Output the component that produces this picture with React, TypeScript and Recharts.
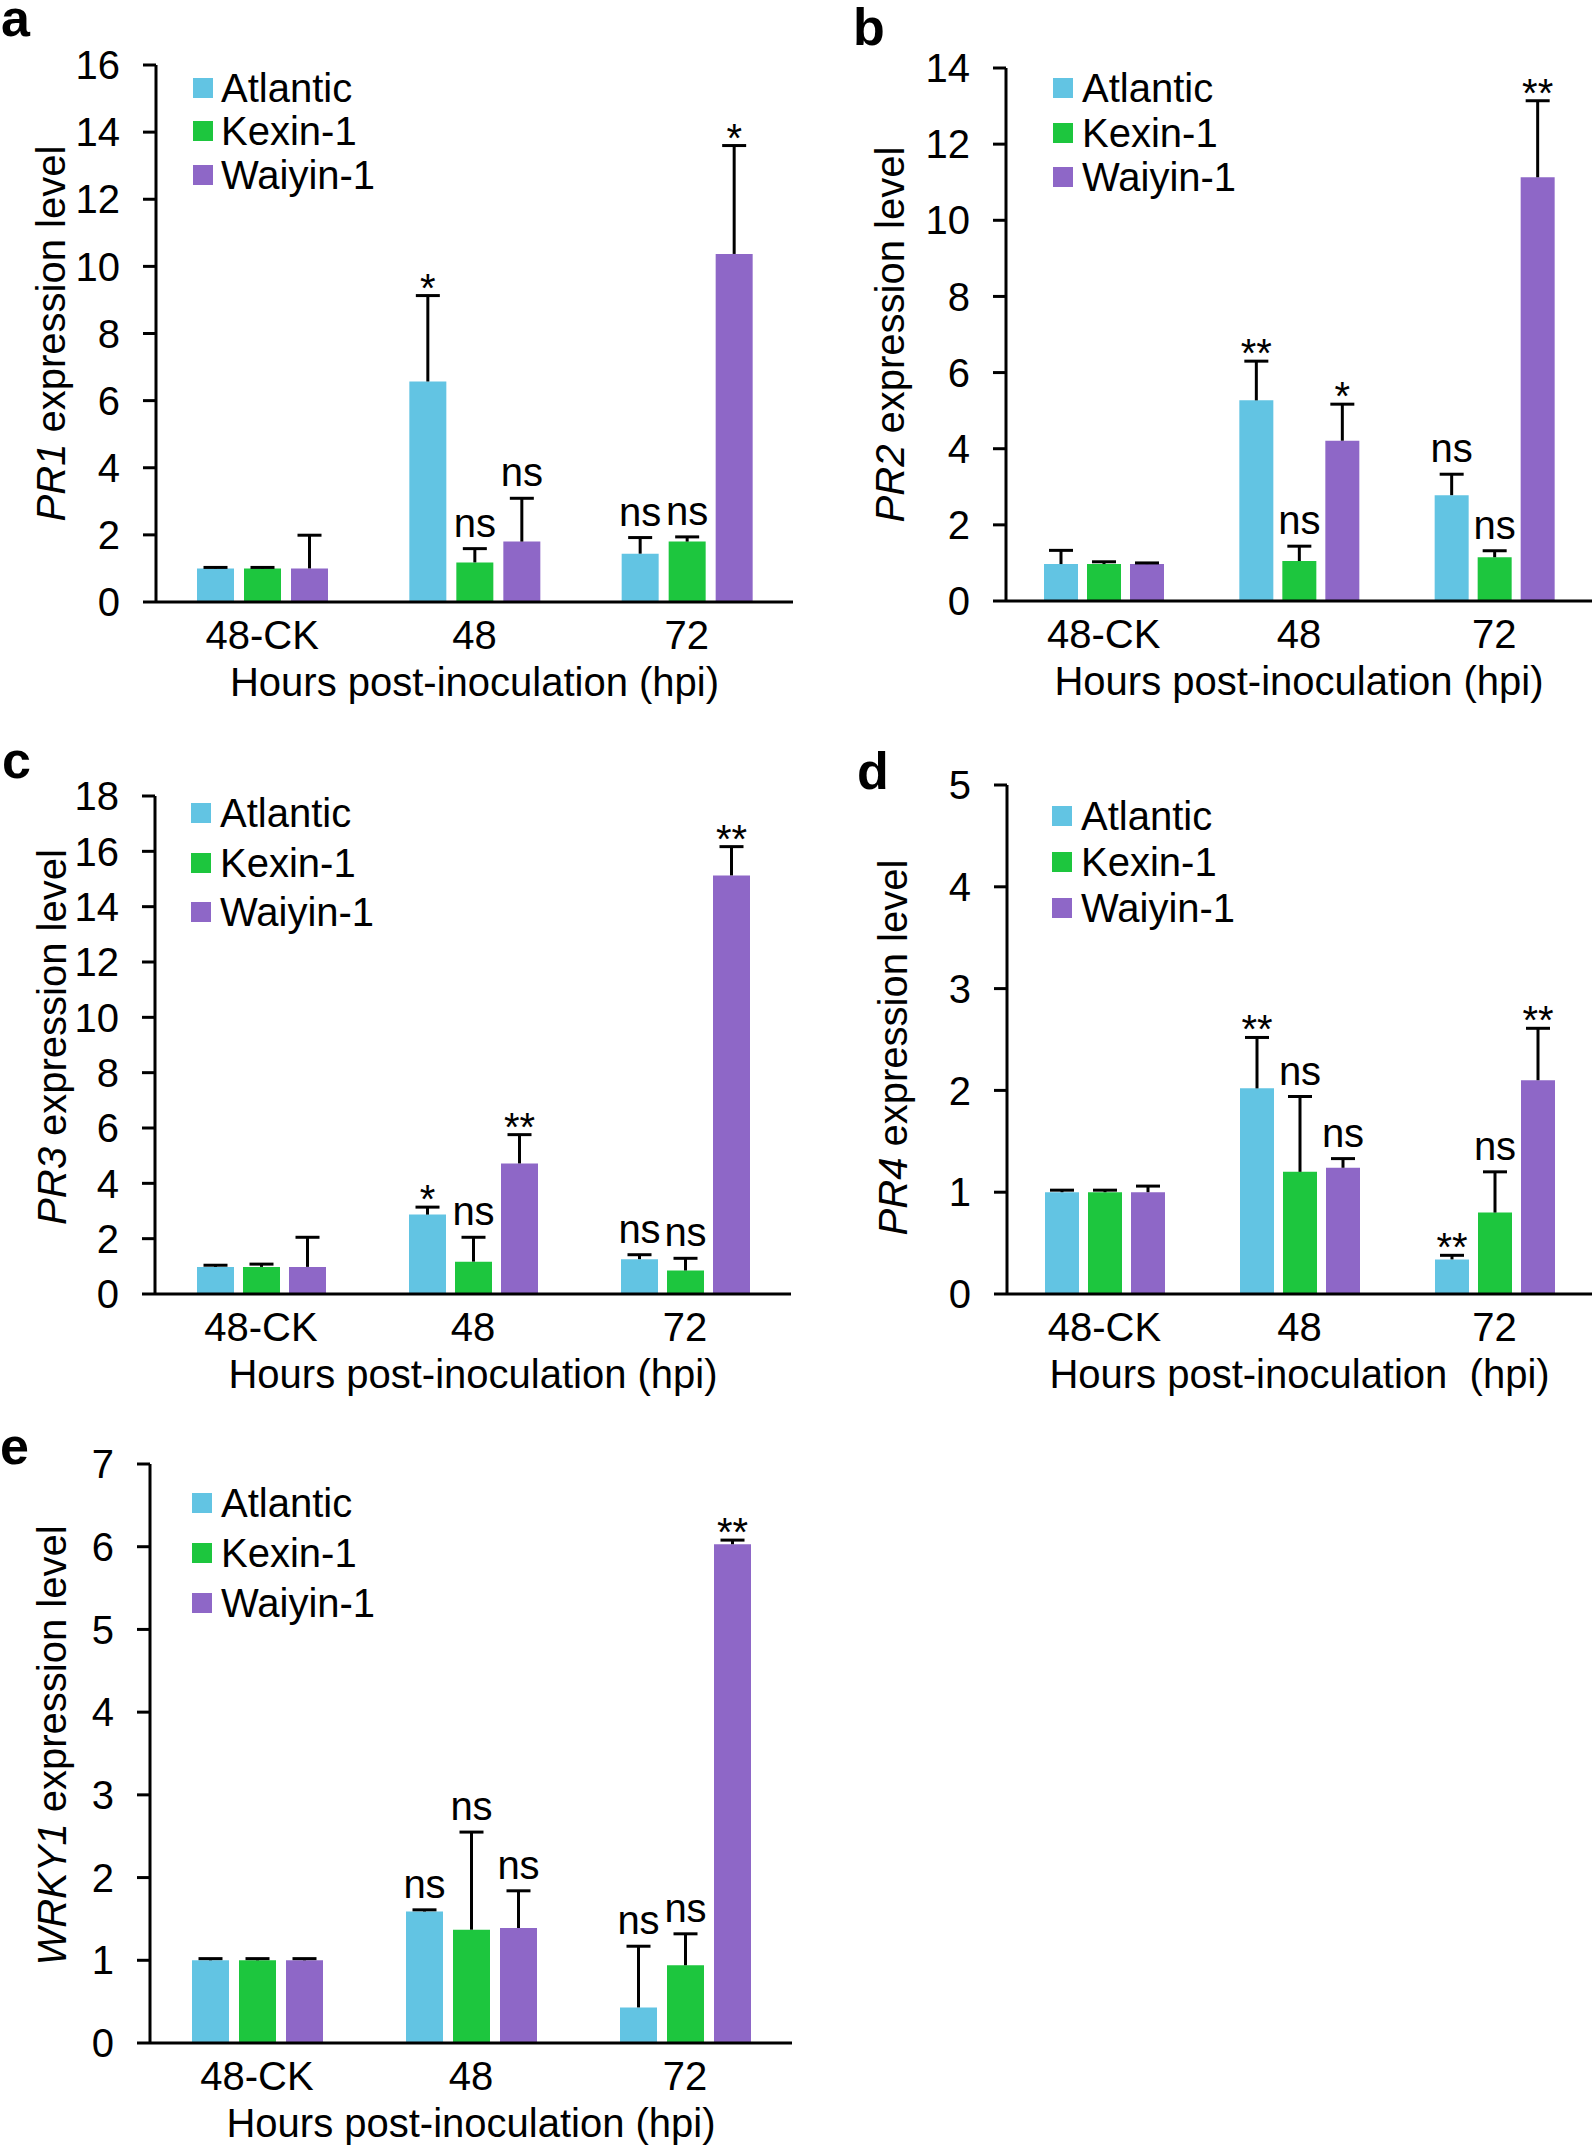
import React from "react";
import { BarChart, Bar, XAxis, YAxis, ErrorBar, LabelList, Legend } from "recharts";

const FONT = "'Liberation Sans', Arial, Helvetica, sans-serif";

const CATEGORIES = ["48-CK", "48", "72"];
const SERIES = ["Atlantic", "Kexin-1", "Waiyin-1"];
const COLORS = ["#62C4E3", "#1DC63E", "#8E67C7"];

// rows follow SERIES, columns follow CATEGORIES
const PR1_MEAN = [[1.0, 6.57, 1.44], [1.0, 1.18, 1.8], [1.0, 1.8, 10.37]];
const PR1_ERR = [[0.03, 2.56, 0.48], [0.03, 0.41, 0.14], [0.99, 1.29, 3.23]];
const PR1_SIG = [["", "*", "ns"], ["", "ns", "ns"], ["", "ns", "*"]];
const PR1_TICKS = [0, 2, 4, 6, 8, 10, 12, 14, 16];

const PR2_MEAN = [[0.97, 5.27, 2.78], [0.97, 1.05, 1.15], [0.97, 4.21, 11.13]];
const PR2_ERR = [[0.36, 1.03, 0.55], [0.06, 0.39, 0.17], [0.03, 0.96, 2.01]];
const PR2_SIG = [["", "**", "ns"], ["", "ns", "ns"], ["", "*", "**"]];
const PR2_TICKS = [0, 2, 4, 6, 8, 10, 12, 14];

const PR3_MEAN = [[0.98, 2.87, 1.26], [0.98, 1.17, 0.85], [0.98, 4.72, 15.13]];
const PR3_ERR = [[0.06, 0.27, 0.16], [0.1, 0.88, 0.44], [1.07, 1.04, 1.04]];
const PR3_SIG = [["", "*", "ns"], ["", "ns", "ns"], ["", "**", "**"]];
const PR3_TICKS = [0, 2, 4, 6, 8, 10, 12, 14, 16, 18];

const PR4_MEAN = [[1.0, 2.02, 0.34], [1.0, 1.2, 0.8], [1.0, 1.24, 2.1]];
const PR4_ERR = [[0.02, 0.5, 0.04], [0.02, 0.74, 0.4], [0.06, 0.09, 0.51]];
const PR4_SIG = [["", "**", "**"], ["", "ns", "ns"], ["", "ns", "**"]];
const PR4_TICKS = [0, 1, 2, 3, 4, 5];

const WRKY1_MEAN = [[1.0, 1.59, 0.43], [1.0, 1.37, 0.94], [1.0, 1.39, 6.03]];
const WRKY1_ERR = [[0.02, 0.02, 0.74], [0.02, 1.18, 0.38], [0.02, 0.45, 0.05]];
const WRKY1_SIG = [["", "ns", "ns"], ["", "ns", "ns"], ["", "ns", "**"]];
const WRKY1_TICKS = [0, 1, 2, 3, 4, 5, 6, 7];

const TITLE = "Hours post-inoculation (hpi)";

const PANELS = [
  {
    letter: "a", gene: "PR1", title: TITLE, mean: PR1_MEAN, err: PR1_ERR, sig: PR1_SIG, ticks: PR1_TICKS,
    left: 0, top: 0, width: 800, height: 725, plotTop: 65, plotBottom: 602, plotLeft: 156, plotRight: 793,
    barSize: 37, barGap: 10, labelX: 51, labelShift: 0,
    legendX: 193, legendTextX: 221, legendCenter: 87.5, legendStep: 43.5, letterX: 1, letterY: 36,
  },
  {
    letter: "b", gene: "PR2", title: TITLE, mean: PR2_MEAN, err: PR2_ERR, sig: PR2_SIG, ticks: PR2_TICKS,
    left: 800, top: 0, width: 794, height: 725, plotTop: 68, plotBottom: 601, plotLeft: 1006, plotRight: 1592,
    barSize: 34, barGap: 9, labelX: 890, labelShift: 0,
    legendX: 1053, legendTextX: 1082, legendCenter: 88, legendStep: 44.5, letterX: 853, letterY: 45,
  },
  {
    letter: "c", gene: "PR3", title: TITLE, mean: PR3_MEAN, err: PR3_ERR, sig: PR3_SIG, ticks: PR3_TICKS,
    left: 0, top: 725, width: 800, height: 700, plotTop: 796, plotBottom: 1294, plotLeft: 155, plotRight: 791,
    barSize: 37, barGap: 9, labelX: 52, labelShift: -8,
    legendX: 191, legendTextX: 220, legendCenter: 813, legendStep: 49.5, letterX: 2, letterY: 778,
  },
  {
    letter: "d", gene: "PR4", title: "Hours post-inoculation  (hpi)", mean: PR4_MEAN, err: PR4_ERR, sig: PR4_SIG, ticks: PR4_TICKS,
    left: 800, top: 725, width: 794, height: 700, plotTop: 785, plotBottom: 1294, plotLeft: 1007, plotRight: 1592,
    barSize: 34, barGap: 9, labelX: 893, labelShift: 8,
    legendX: 1052, legendTextX: 1081, legendCenter: 816, legendStep: 46, letterX: 857, letterY: 789,
  },
  {
    letter: "e", gene: "WRKY1", title: TITLE, mean: WRKY1_MEAN, err: WRKY1_ERR, sig: WRKY1_SIG, ticks: WRKY1_TICKS,
    left: 0, top: 1425, width: 800, height: 723, plotTop: 1464, plotBottom: 2043, plotLeft: 150, plotRight: 792,
    barSize: 37, barGap: 10, labelX: 52, labelShift: -8,
    legendX: 192, legendTextX: 221, legendCenter: 1503, legendStep: 50, letterX: 0, letterY: 1464,
  },
];

type PanelCfg = (typeof PANELS)[number];

const sigLabel = (p: PanelCfg, si: number) => (props: any) => {
  const vb = props.viewBox || props;
  const idx = props.index;
  if (idx == null) return null;
  const text = p.sig[si][idx];
  if (!text) return null;
  const x = vb.x ?? props.x;
  const y = vb.y ?? props.y;
  const w = vb.width ?? props.width;
  const h = vb.height ?? props.height;
  const top = Math.min(y, y + h);
  const capY = top - (Math.abs(h) * p.err[si][idx]) / p.mean[si][idx];
  const star = text.startsWith("*");
  return (
    <text x={x + w / 2} y={star ? capY + 6 : capY - 12} textAnchor="middle" fontSize={40} fontFamily={FONT} fill="#000">
      {text}
    </text>
  );
};

function Panel({ p }: { p: PanelCfg }) {
  const rows = CATEGORIES.map((cat, ci) => {
    const row: Record<string, any> = { cat };
    SERIES.forEach((s, si) => {
      row[s] = p.mean[si][ci];
      row[s + "_err"] = [0, p.err[si][ci]];
      row[s + "_sig"] = p.sig[si][ci];
    });
    return row;
  });
  const max = p.ticks[p.ticks.length - 1];

  return (
    <div style={{ position: "absolute", left: p.left, top: p.top }}>
      <BarChart
        width={p.width}
        height={p.height}
        data={rows}
        margin={{ top: p.plotTop - p.top, right: p.left + p.width - p.plotRight, bottom: 0, left: 0 }}
        barSize={p.barSize}
        barGap={p.barGap}
      >
        <XAxis
          xAxisId={0}
          type="number"
          domain={[0, 3]}
          ticks={[0, 1, 2, 3]}
          tick={false}
          axisLine={false}
          tickLine={{ stroke: "#000", strokeWidth: 3 }}
          tickSize={12}
          height={0}
        />
        <XAxis
          xAxisId="cat"
          dataKey="cat"
          type="category"
          interval={0}
          tickLine={false}
          axisLine={{ stroke: "#000", strokeWidth: 3 }}
          tickSize={12}
          tickMargin={7}
          height={p.top + p.height - p.plotBottom}
          tick={{ fontSize: 40, fill: "#000", fontFamily: FONT }}
          label={{
            content: (props: any) => {
              const vb = props.viewBox;
              return (
                <text x={vb.x + vb.width / 2} y={vb.y + 94} textAnchor="middle" fontSize={40} fontFamily={FONT} fill="#000" style={{ whiteSpace: "pre" }}>
                  {p.title}
                </text>
              );
            },
          }}
        />
        <YAxis
          domain={[0, max]}
          ticks={p.ticks}
          interval={0}
          width={p.plotLeft - p.left}
          tickSize={13}
          tickMargin={23}
          axisLine={{ stroke: "#000", strokeWidth: 3 }}
          tickLine={{ stroke: "#000", strokeWidth: 3 }}
          tick={{ fontSize: 40, fill: "#000", fontFamily: FONT }}
          label={{
            content: (props: any) => {
              const vb = props.viewBox;
              const cx = p.labelX - p.left;
              const cy = vb.y + vb.height / 2 + p.labelShift;
              return (
                <text transform={`rotate(-90 ${cx} ${cy})`} x={cx} y={cy} dy="0.35em" textAnchor="middle" fontSize={40} fontFamily={FONT} fill="#000" style={{ whiteSpace: "pre" }}>
                  <tspan fontStyle="italic">{p.gene}</tspan>
                  <tspan> expression level</tspan>
                </text>
              );
            },
          }}
        />
        <Legend
          layout="vertical"
          align="center"
          verticalAlign="middle"
          wrapperStyle={{
            left: p.legendX - p.left,
            top: p.legendCenter - p.legendStep / 2 - p.top,
            width: 320,
            height: p.legendStep * 3,
          }}
          content={() => (
            <div style={{ fontFamily: FONT }}>
              {SERIES.map((s, i) => (
                <div key={s} style={{ display: "flex", alignItems: "center", height: p.legendStep }}>
                  <span style={{ display: "inline-block", width: 20, height: 20, background: COLORS[i], marginRight: p.legendTextX - p.legendX - 20 }} />
                  <span style={{ fontSize: 40, lineHeight: "40px", color: "#000" }}>{s}</span>
                </div>
              ))}
            </div>
          )}
        />
        {SERIES.map((s, si) => (
          <Bar key={s} xAxisId="cat" dataKey={s} fill={COLORS[si]} isAnimationActive={false}>
            <ErrorBar dataKey={s + "_err"} direction="y" width={12} strokeWidth={3} stroke="#000" isAnimationActive={false} />
            <LabelList dataKey={s + "_sig"} content={sigLabel(p, si)} />
          </Bar>
        ))}
      </BarChart>
    </div>
  );
}

export default function App() {
  return (
    <div style={{ position: "relative", width: 1594, height: 2148, background: "#fff" }}>
      <style>{`
        body { margin: 0; }
        .recharts-errorBar > :nth-child(3) { display: none; }
      `}</style>
      {PANELS.map((p) => (
        <Panel key={p.letter} p={p} />
      ))}
      <svg width={1594} height={2148} style={{ position: "absolute", left: 0, top: 0, pointerEvents: "none" }}>
        {PANELS.map((p) => (
          <text key={p.letter} x={p.letterX} y={p.letterY} fontSize={52} fontWeight="bold" fontFamily={FONT} fill="#000">
            {p.letter}
          </text>
        ))}
      </svg>
    </div>
  );
}
